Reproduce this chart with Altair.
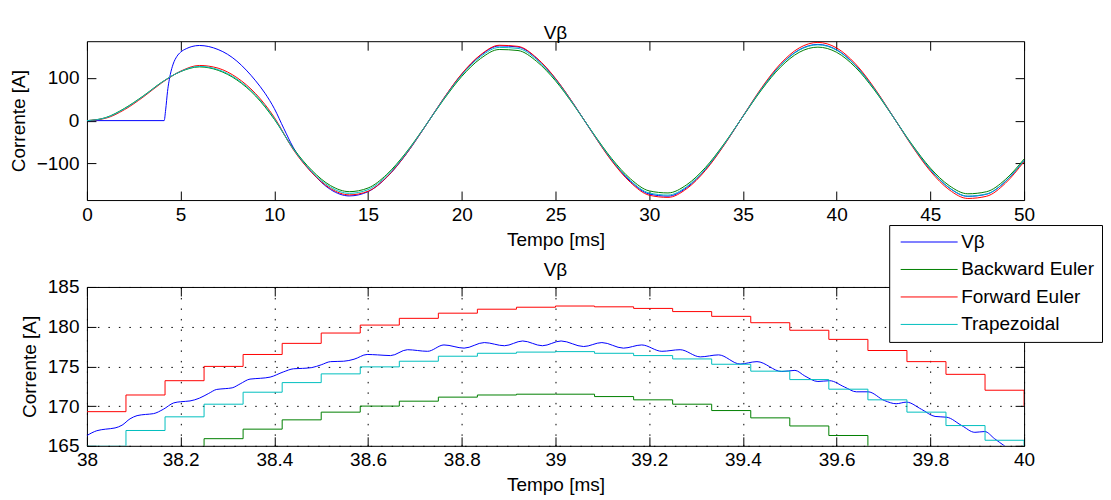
import altair as alt
import pandas as pd

FONT = "Liberation Sans"
SERIES = ["Vβ", "Backward Euler", "Forward Euler", "Trapezoidal"]
COLORS = ["#0000ff", "#008000", "#ff0000", "#00bfbf"]

# ---------------- top panel (0..50 ms) ----------------
T_TOP = list(range(0, 51))
TOP_BACKWARD = [0, 7, 28.5, 57.5, 89.8, 114.5, 125.5, 117.5, 95, 57.5, 3,
                -64.2, -116.2, -151.8, -165.9, -157.4, -125.6, -76.1, -15.8, 47.0, 103.3,
                144.9, 166.1, 163.7, 138.1, 93.0, 34.7, -28.8, -88.7, -136.0, -164.1,
                -168.9, -149.8, -109.5, -53.8, 9.7, 72.3, 124.7, 159.5, 171.6, 159.5,
                124.7, 72.3, 9.7, -54.4, -110.8, -151.6, -170.9, -166.0, -137.6, -89.7]
TOP_FORWARD = [0, 5.5, 25.5, 55, 88.5, 115.5, 128.8, 122.5, 100.5, 63, 7.5,
               -67.1, -121.5, -158.7, -173.4, -165.0, -131.7, -79.8, -16.6, 49.8, 109.5,
               153.6, 176.0, 173.4, 146.3, 98.5, 36.8, -30.6, -94.2, -144.4, -174.2,
               -179.3, -159.1, -116.3, -57.1, 10.4, 77.0, 132.7, 169.7, 182.6, 169.7,
               132.7, 77.0, 10.4, -57.9, -117.9, -161.3, -181.8, -176.6, -146.4, -95.5]
TOP_TRAP = [0, 6.5, 27.5, 56.7, 89.4, 115, 126.6, 119, 97, 59.7, 4.8,
            -65.8, -119.0, -155.5, -169.9, -161.2, -128.6, -77.9, -16.2, 48.4, 106.4,
            149.3, 171.0, 168.6, 142.2, 95.8, 35.8, -29.7, -91.3, -140.0, -168.9,
            -173.9, -154.2, -112.7, -55.3, 10.0, 74.6, 128.6, 164.5, 177.0, 164.5,
            128.6, 74.6, 10.0, -56.1, -114.3, -156.4, -176.4, -171.3, -142.0, -92.6]
T_TOP_VB = [0, 4.12, 4.2, 4.3, 4.45, 4.6, 4.8, 5.0, 5.3, 5.6, 6.0, 6.5, 7.0, 7.5,
            8.0, 8.5, 9.0, 9.5, 10.0, 10.5] + list(range(11, 51))
TOP_VB = [0, 0, 25, 68, 108, 132, 150, 160, 168, 173, 175.5, 173, 166, 155,
          139, 118, 93, 64, 28, -18,
          -62, -121, -161.0, -175.9, -165.9, -132.4, -80.2, -16.6, 49.4, 108.5,
          152.3, 174.5, 172.0, 145.1, 97.7, 36.5, -30.1, -92.6, -142.0, -171.3,
          -176.4, -156.4, -114.3, -56.1, 10.1, 75.0, 129.4, 165.4, 178.0, 165.4,
          129.4, 75.0, 10.1, -56.3, -114.6, -156.9, -176.9, -171.8, -142.4, -92.9]

# ---------------- bottom panel (38..40 ms) ----------------
T_STEP = [38.0, 38.0833, 38.1667, 38.25, 38.3333, 38.4167, 38.5, 38.5833, 38.6667,
          38.75, 38.8333, 38.9167, 39.0, 39.0833, 39.1667, 39.25, 39.3333, 39.4167,
          39.5, 39.5833, 39.6667, 39.75, 39.8333, 39.9167, 40.0]
BOT_FORWARD = [169.3, 171.4, 173.2, 175.0, 176.5, 177.9, 179.2, 180.2, 181.05,
               181.7, 182.2, 182.45, 182.6, 182.5, 182.3, 181.9, 181.3, 180.5,
               179.55, 178.4, 177.0, 175.6, 174.0, 172.0, 170.0]
BOT_TRAP = [164.95, 166.93, 168.65, 170.24, 171.75, 172.96, 174.06, 174.94, 175.65,
            176.28, 176.65, 176.8, 176.86, 176.65, 176.36, 175.94, 175.27, 174.4,
            173.34, 172.13, 170.79, 169.24, 167.55, 165.7, 163.9]
BOT_BACKWARD = [162.5, 163.5, 164.6, 165.9, 167.1, 168.27, 169.24, 170.0, 170.62,
                171.13, 171.4, 171.5, 171.5, 171.2, 170.79, 170.24, 169.44, 168.52,
                167.5, 166.3, 163.9, 162.4, 160.8, 159.0, 157.2]
T_BOT_VB = [38.000, 38.021, 38.040, 38.060, 38.075, 38.092, 38.107, 38.125, 38.142,
            38.163, 38.185, 38.200, 38.220, 38.240, 38.260, 38.277, 38.295, 38.310,
            38.327, 38.348, 38.370, 38.391, 38.419, 38.441, 38.460, 38.480, 38.500,
            38.520, 38.548, 38.570, 38.598, 38.620, 38.648, 38.684, 38.727, 38.762,
            38.805, 38.848, 38.891, 38.930, 38.972, 39.012, 39.060, 39.099, 39.145,
            39.184, 39.227, 39.266, 39.309, 39.348, 39.394, 39.430, 39.483, 39.511,
            39.532, 39.560, 39.585, 39.617, 39.642, 39.667, 39.702, 39.727, 39.749,
            39.781, 39.810, 39.835, 39.867, 39.895, 39.916, 39.937, 39.959, 39.980, 40.000]
BOT_VB = [166.3, 166.9, 167.1, 167.25, 167.6, 168.4, 168.8, 168.95, 169.05,
          169.6, 170.4, 170.55, 170.65, 171.0, 171.6, 172.1, 172.2, 172.3,
          172.8, 173.4, 173.5, 173.65, 174.3, 174.7, 174.75, 174.85, 175.2,
          175.6, 175.65, 175.9, 176.5, 176.45, 176.36, 177.1, 176.9, 177.7,
          177.3, 178.0, 177.6, 178.2, 177.6, 178.2, 177.5, 178.0, 177.3,
          177.7, 176.9, 177.1, 176.2, 176.45, 175.3, 175.6, 174.35, 174.5,
          173.8, 173.1, 173.2, 172.4, 171.8, 171.8, 170.7, 170.3, 170.5,
          169.6, 168.7, 168.6, 167.55, 166.7, 166.8, 165.9, 164.96, 164.2, 163.5]

TOP_XTICKS = [0, 5, 10, 15, 20, 25, 30, 35, 40, 45, 50]
TOP_YTICKS = [-100, 0, 100]
BOT_XTICKS = [38, 38.2, 38.4, 38.6, 38.8, 39, 39.2, 39.4, 39.6, 39.8, 40]
BOT_YTICKS = [165, 170, 175, 180, 185]

W, H = 938, 159
color_scale = alt.Scale(domain=SERIES, range=COLORS)


def sdf(t, v, name):
    return pd.DataFrame({"t": t, "v": v, "s": name})


def panel(series, interp, xdom, ydom, xticks, yticks, grid, legend):
    xs = alt.Scale(domain=xdom, nice=False, zero=False)
    ys = alt.Scale(domain=ydom, nice=False, zero=False)
    layers = []
    for df, ip in zip(series, interp):
        layers.append(
            alt.Chart(df).mark_line(interpolate=ip, clip=True, strokeWidth=1).encode(
                x=alt.X("t:Q", scale=xs, axis=None),
                y=alt.Y("v:Q", scale=ys, axis=None),
                color=alt.Color("s:N", scale=color_scale, legend=legend),
            )
        )
    adf = series[0]
    lab = alt.Chart(adf).mark_point(opacity=0).encode(
        x=alt.X("t:Q", scale=xs, axis=alt.Axis(
            values=xticks, format="~r", title="Tempo [ms]", orient="bottom",
            ticks=False, domain=False, grid=grid, labelPadding=5, titlePadding=6,
            labelFlush=False)),
        y=alt.Y("v:Q", scale=ys, axis=alt.Axis(
            values=yticks, format="~r", title="Corrente [A]", orient="left",
            ticks=False, domain=False, grid=grid, labelPadding=8, titlePadding=8,
            labelFlush=False)),
    )
    t1 = alt.Chart(adf).mark_point(opacity=0).encode(
        x=alt.X("t:Q", scale=xs, axis=alt.Axis(
            values=xticks, orient="bottom", offset=-9, tickSize=9, labels=False,
            domain=False, grid=False, title=None)),
        y=alt.Y("v:Q", scale=ys, axis=alt.Axis(
            values=yticks, orient="left", offset=-9, tickSize=9, labels=False,
            domain=False, grid=False, title=None)),
    )
    t2 = alt.Chart(adf).mark_point(opacity=0).encode(
        x=alt.X("t:Q", scale=xs, axis=alt.Axis(
            values=xticks, orient="top", offset=-9, tickSize=9, labels=False,
            domain=False, grid=False, title=None)),
        y=alt.Y("v:Q", scale=ys, axis=alt.Axis(
            values=yticks, orient="right", offset=-9, tickSize=9, labels=False,
            domain=False, grid=False, title=None)),
    )
    return alt.layer(*layers, lab, t1, t2).resolve_axis(
        x="independent", y="independent"
    ).properties(
        width=W, height=H,
        title=alt.TitleParams("Vβ", font=FONT, fontSize=19, fontWeight="normal",
                              color="black", frame="group", anchor="middle", offset=-2),
    )


leg = alt.Legend(
    title=None, orient="none", legendX=803, legendY=184,
    symbolType="M-3,0H3", symbolSize=361, symbolStrokeWidth=1,
    labelFont=FONT, labelFontSize=19, labelColor="black",
    strokeColor="black", fillColor="white", padding=7, rowPadding=7.5,
    symbolOffset=23, labelOffset=22, labelLimit=400,
)

top = panel(
    [sdf(T_TOP_VB, TOP_VB, SERIES[0]), sdf(T_TOP, TOP_BACKWARD, SERIES[1]),
     sdf(T_TOP, TOP_FORWARD, SERIES[2]), sdf(T_TOP, TOP_TRAP, SERIES[3])],
    ["monotone"] * 4, [0, 50], [-185.5, 185.5], TOP_XTICKS, TOP_YTICKS, False, leg)

bottom = panel(
    [sdf(T_BOT_VB, BOT_VB, SERIES[0]), sdf(T_STEP, BOT_BACKWARD, SERIES[1]),
     sdf(T_STEP, BOT_FORWARD, SERIES[2]), sdf(T_STEP, BOT_TRAP, SERIES[3])],
    ["monotone", "step-after", "step-after", "step-after"],
    [38, 40], [165, 185], BOT_XTICKS, BOT_YTICKS, True, leg)

chart = alt.vconcat(top, bottom, spacing=87, bounds="flush").properties(
    padding={"left": 0, "top": 15, "right": 0, "bottom": 0}
).configure(
    font=FONT,
).configure_view(
    stroke="black", strokeWidth=1
).configure_axis(
    labelFont=FONT, labelFontSize=19, labelColor="black",
    titleFont=FONT, titleFontSize=19, titleFontWeight="normal", titleColor="black",
    tickColor="black", tickWidth=1,
    gridColor="black", gridOpacity=1, gridWidth=1, gridDash=[1.5, 9],
)

chart.save("out.html", embed_options={"renderer": "svg", "actions": False})
